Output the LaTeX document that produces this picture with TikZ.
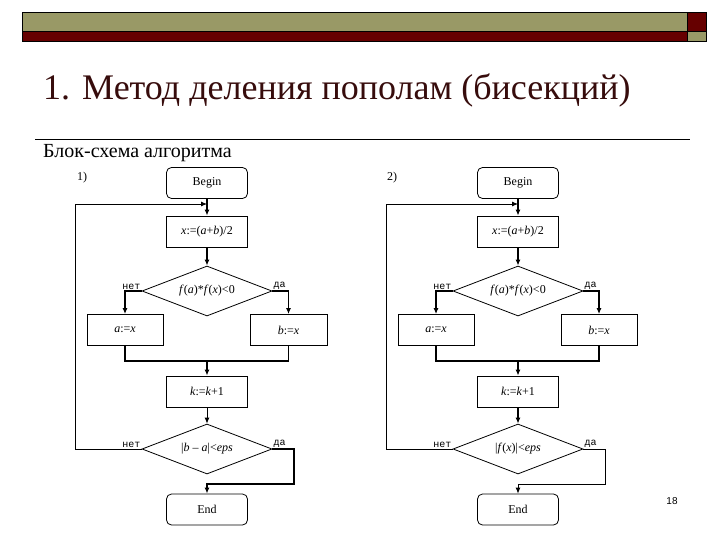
\documentclass[tikz,border=0pt]{standalone}
\usepackage{fontspec}
\setmainfont{Liberation Serif}
\newfontfamily\monof{Liberation Mono}
\newfontfamily\sansf{Liberation Sans}
\usetikzlibrary{shapes.geometric,arrows.meta}
\definecolor{olivebar}{RGB}{153,153,102}
\definecolor{redbar}{RGB}{102,0,0}
\definecolor{titlecol}{RGB}{55,12,12}
\tikzset{
  boxbase/.style={draw, line width=0.8pt, minimum width=81pt, minimum height=31pt, inner sep=0pt, font=\fontsize{12}{14}\selectfont},
  proc/.style={boxbase, rectangle},
  term/.style={boxbase, rectangle, rounded corners=5pt},
  dec/.style={draw, line width=0.8pt, diamond, aspect=2.6, minimum width=130pt, minimum height=50pt, inner sep=0pt, font=\fontsize{12}{14}\selectfont},
  flow/.style={line width=1.4pt},
  thinflow/.style={line width=0.8pt},
  arr/.style={-{Latex[length=6pt,width=5pt]}},
  lbl/.style={font=\monof\fontsize{10}{12}\selectfont, inner sep=1pt},
  numlbl/.style={font=\fontsize{12}{14}\selectfont, inner sep=0pt}
}
\begin{document}
\begin{tikzpicture}[x=1pt,y=-1pt]
\useasboundingbox (0,0) rectangle (720,540);
% top bars
\filldraw[fill=olivebar, draw=black, line width=0.8pt] (22,12) rectangle (687,31);
\filldraw[fill=redbar, draw=black, line width=0.8pt] (22,31) rectangle (687,41);
\filldraw[fill=redbar, draw=black, line width=0.8pt] (687,12) rectangle (706,31);
\filldraw[fill=olivebar, draw=black, line width=0.8pt] (687,31) rectangle (706,41);
% title
\node[anchor=base west, inner sep=0pt, text=titlecol, font=\fontsize{36}{40}\selectfont] (title) at (43,100) {1. Метод деления пополам (бисекций)};
\draw[line width=0.9pt] (35,139) -- (690,139);
\node[anchor=base west, inner sep=0pt, font=\fontsize{20}{22}\selectfont] (sub) at (43,158) {Блок-схема алгоритма};

% ===== left chart =====
\node[numlbl] (L1) at (82,178) {1)};
\node[term] (Lb) at (207,183) {Begin};
\node[proc] (Lx) at (207,231.5) {\textit{x}:=(\textit{a}+\textit{b})/2};
\node[dec] (Ld) at (207,291) {\textit{f}(\textit{a})*\textit{f}(\textit{x})<0};
\node[proc, minimum width=76pt] (La) at (125,330) {\textit{a}:=\textit{x}};
\node[proc, minimum width=77pt] (Lbx) at (288.5,330) {\textit{b}:=\textit{x}};
\node[proc] (Lk) at (207,391.5) {\textit{k}:=\textit{k}+1};
\node[dec] (Le) at (207,449) {|\textit{b} – \textit{a}|<\textit{eps}};
\node[term] (Lend) at (207,509.5) {End};
\coordinate (Ljoin) at (207,204);
\coordinate (Lloop) at (75,449);
\coordinate (Lm) at (207,361);
\coordinate (Lyes) at (294,484);

\draw[flow, arr] (Lb) -- (Lx);
\draw[thinflow, arr] (Le.west) -- (Lloop) |- (Ljoin);
\draw[flow, arr] (Lx) -- (Ld);
\draw[flow, arr] (Ld.west) -| (La.north);
\draw[flow, arr] (Ld.east) -| (Lbx.north);
\draw[flow] (La.south) |- (Lm) -| (Lbx.south);
\draw[flow, arr] (Lm) -- (Lk);
\draw[thinflow, arr] (Lk) -- (Le);
\draw[flow, arr] (Le.east) -| (Lyes) -| (Lend.north);
\node[lbl, anchor=south east] (Ln1) at (Ld.west) {нет};
\node[lbl, anchor=south west] (Ly1) at (Ld.east) {да};
\node[lbl, anchor=south east] (Ln2) at (Le.west) {нет};
\node[lbl, anchor=south west] (Ly2) at (Le.east) {да};

% ===== right chart =====
\node[numlbl] (R1) at (392,178) {2)};
\node[term] (Rb) at (518,183) {Begin};
\node[proc] (Rx) at (518,231.5) {\textit{x}:=(\textit{a}+\textit{b})/2};
\node[dec] (Rd) at (518,291) {\textit{f}(\textit{a})*\textit{f}(\textit{x})<0};
\node[proc, minimum width=76pt] (Ra) at (436,330) {\textit{a}:=\textit{x}};
\node[proc, minimum width=76pt] (Rbx) at (599,330) {\textit{b}:=\textit{x}};
\node[proc] (Rk) at (518,391.5) {\textit{k}:=\textit{k}+1};
\node[dec] (Re) at (518,449) {|\textit{f}(\textit{x})|<\textit{eps}};
\node[term] (Rend) at (518,509.5) {End};
\coordinate (Rjoin) at (518,204);
\coordinate (Rloop) at (386,449);
\coordinate (Rm) at (518,361);
\coordinate (Ryes) at (605,484);

\draw[flow, arr] (Rb) -- (Rx);
\draw[thinflow, arr] (Re.west) -- (Rloop) |- (Rjoin);
\draw[flow, arr] (Rx) -- (Rd);
\draw[flow, arr] (Rd.west) -| (Ra.north);
\draw[flow, arr] (Rd.east) -| (Rbx.north);
\draw[flow] (Ra.south) |- (Rm) -| (Rbx.south);
\draw[flow, arr] (Rm) -- (Rk);
\draw[flow, arr] (Rk) -- (Re);
\draw[thinflow, arr] (Re.east) -| (Ryes) -| (Rend.north);
\node[lbl, anchor=south east] (Rn1) at (Rd.west) {нет};
\node[lbl, anchor=south west] (Ry1) at (Rd.east) {да};
\node[lbl, anchor=south east] (Rn2) at (Re.west) {нет};
\node[lbl, anchor=south west] (Ry2) at (Re.east) {да};

\node[font=\sansf\fontsize{10}{12}\selectfont, inner sep=0pt] (pg) at (672,501) {18};
\end{tikzpicture}
\end{document}
